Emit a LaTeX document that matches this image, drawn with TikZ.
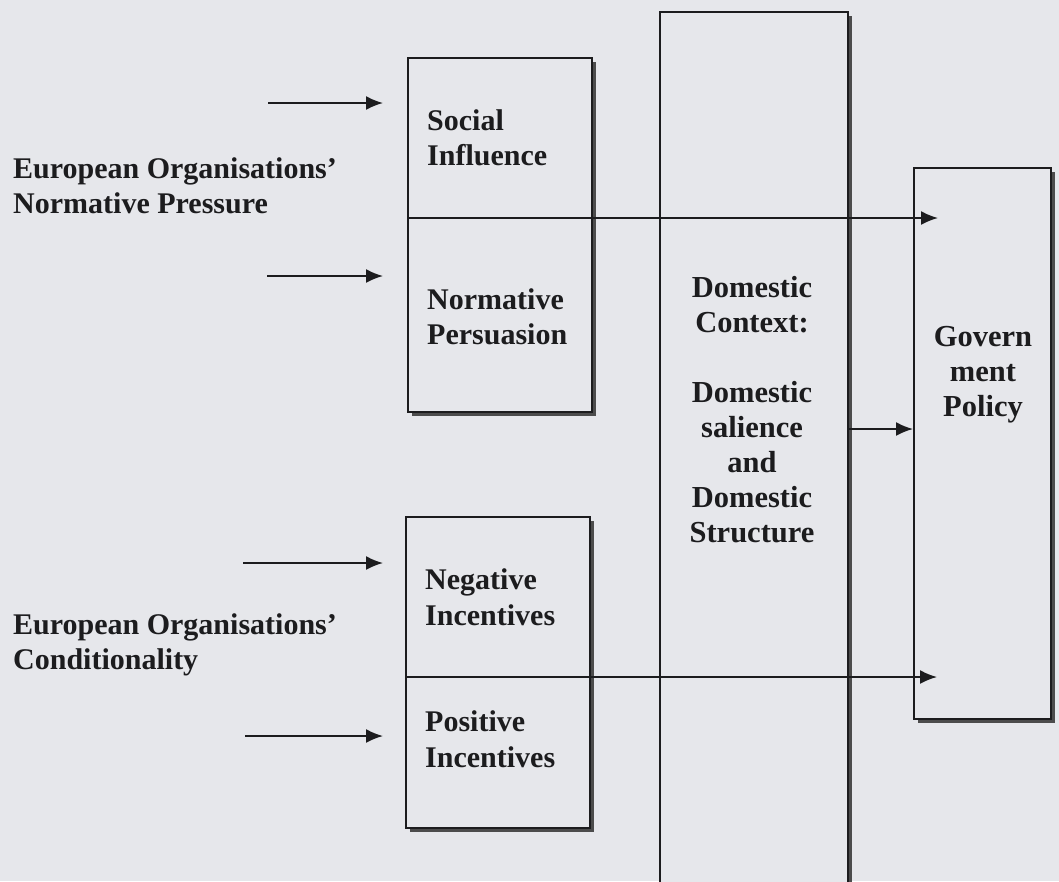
\documentclass[tikz,border=0pt]{standalone}
\usepackage{fontspec}
\setmainfont{Liberation Serif}
\usetikzlibrary{arrows.meta,shadows}
\definecolor{paper}{RGB}{230,231,235}
\definecolor{ink}{RGB}{28,28,30}
\begin{document}
\begin{tikzpicture}[x=1pt,y=-1pt,
  lbl/.style={font=\fontsize{30}{35.5}\selectfont\bfseries, text=ink, inner sep=0pt, align=left, anchor=west},
  ctr/.style={font=\fontsize{30.5}{35}\selectfont\bfseries, text=ink, inner sep=0pt, align=center},
  frame/.style={draw=ink, line width=2pt, fill=paper, inner sep=0pt, anchor=north west,
    drop shadow={shadow xshift=4pt, shadow yshift=-4pt, fill=black!70, opacity=1}},
  arr/.style={draw=ink, line width=1.8pt, -{Latex[length=17pt,width=14pt]}}]
\useasboundingbox (0,0) rectangle (1059,881);
\fill[paper] (0,0) rectangle (1059,881);
\clip (0,0) rectangle (1059,881);

% frames
\node[frame, minimum width=184pt, minimum height=354pt] (upbox) at (407,57) {};
\node[frame, minimum width=184pt, minimum height=311pt] (lowbox) at (405,516) {};
\node[frame, minimum width=188pt, minimum height=900pt] (ctx) at (659,11) {};
\node[frame, minimum width=137pt, minimum height=551pt] (gov) at (913,167) {};

% through lines (box dividers continuing to the policy box)
\coordinate (t1) at (938,218);
\coordinate (t2) at (937,677);
\draw[arr] (upbox.west |- t1) -- (t1);
\draw[arr] (lowbox.west |- t2) -- (t2);

% context -> policy
\coordinate (m) at (0,429);
\draw[arr] (ctx.east |- m) -- (gov.west |- m);

% incoming arrows
\coordinate (a1) at (268,103);
\coordinate (a2) at (267,276);
\coordinate (a3) at (243,563);
\coordinate (a4) at (245,736);
\draw[arr, shorten >=24pt] (a1) -- (upbox.west |- a1);
\draw[arr, shorten >=24pt] (a2) -- (upbox.west |- a2);
\draw[arr, shorten >=22pt] (a3) -- (lowbox.west |- a3);
\draw[arr, shorten >=22pt] (a4) -- (lowbox.west |- a4);

% texts
\node[lbl] (social) at (427,138) {Social\\Influence};
\node[lbl] (normative) at (427,317) {Normative\\Persuasion};
\node[lbl] (negative) at (425,597) {Negative\\Incentives};
\node[lbl] (positive) at (425,739) {Positive\\Incentives};
\node[lbl] (epn) at (13,186) {European Organisations’\\Normative Pressure};
\node[lbl] (epc) at (13,645) {European Organisations’\\Conditionality};
\node[ctr] (ctxtext) at (752,410) {Domestic\\Context:\\[35pt]Domestic\\salience\\and\\Domestic\\Structure};
\node[ctr] (govtext) at (983,375) {Govern\\ment\\Policy};
\end{tikzpicture}
\end{document}
